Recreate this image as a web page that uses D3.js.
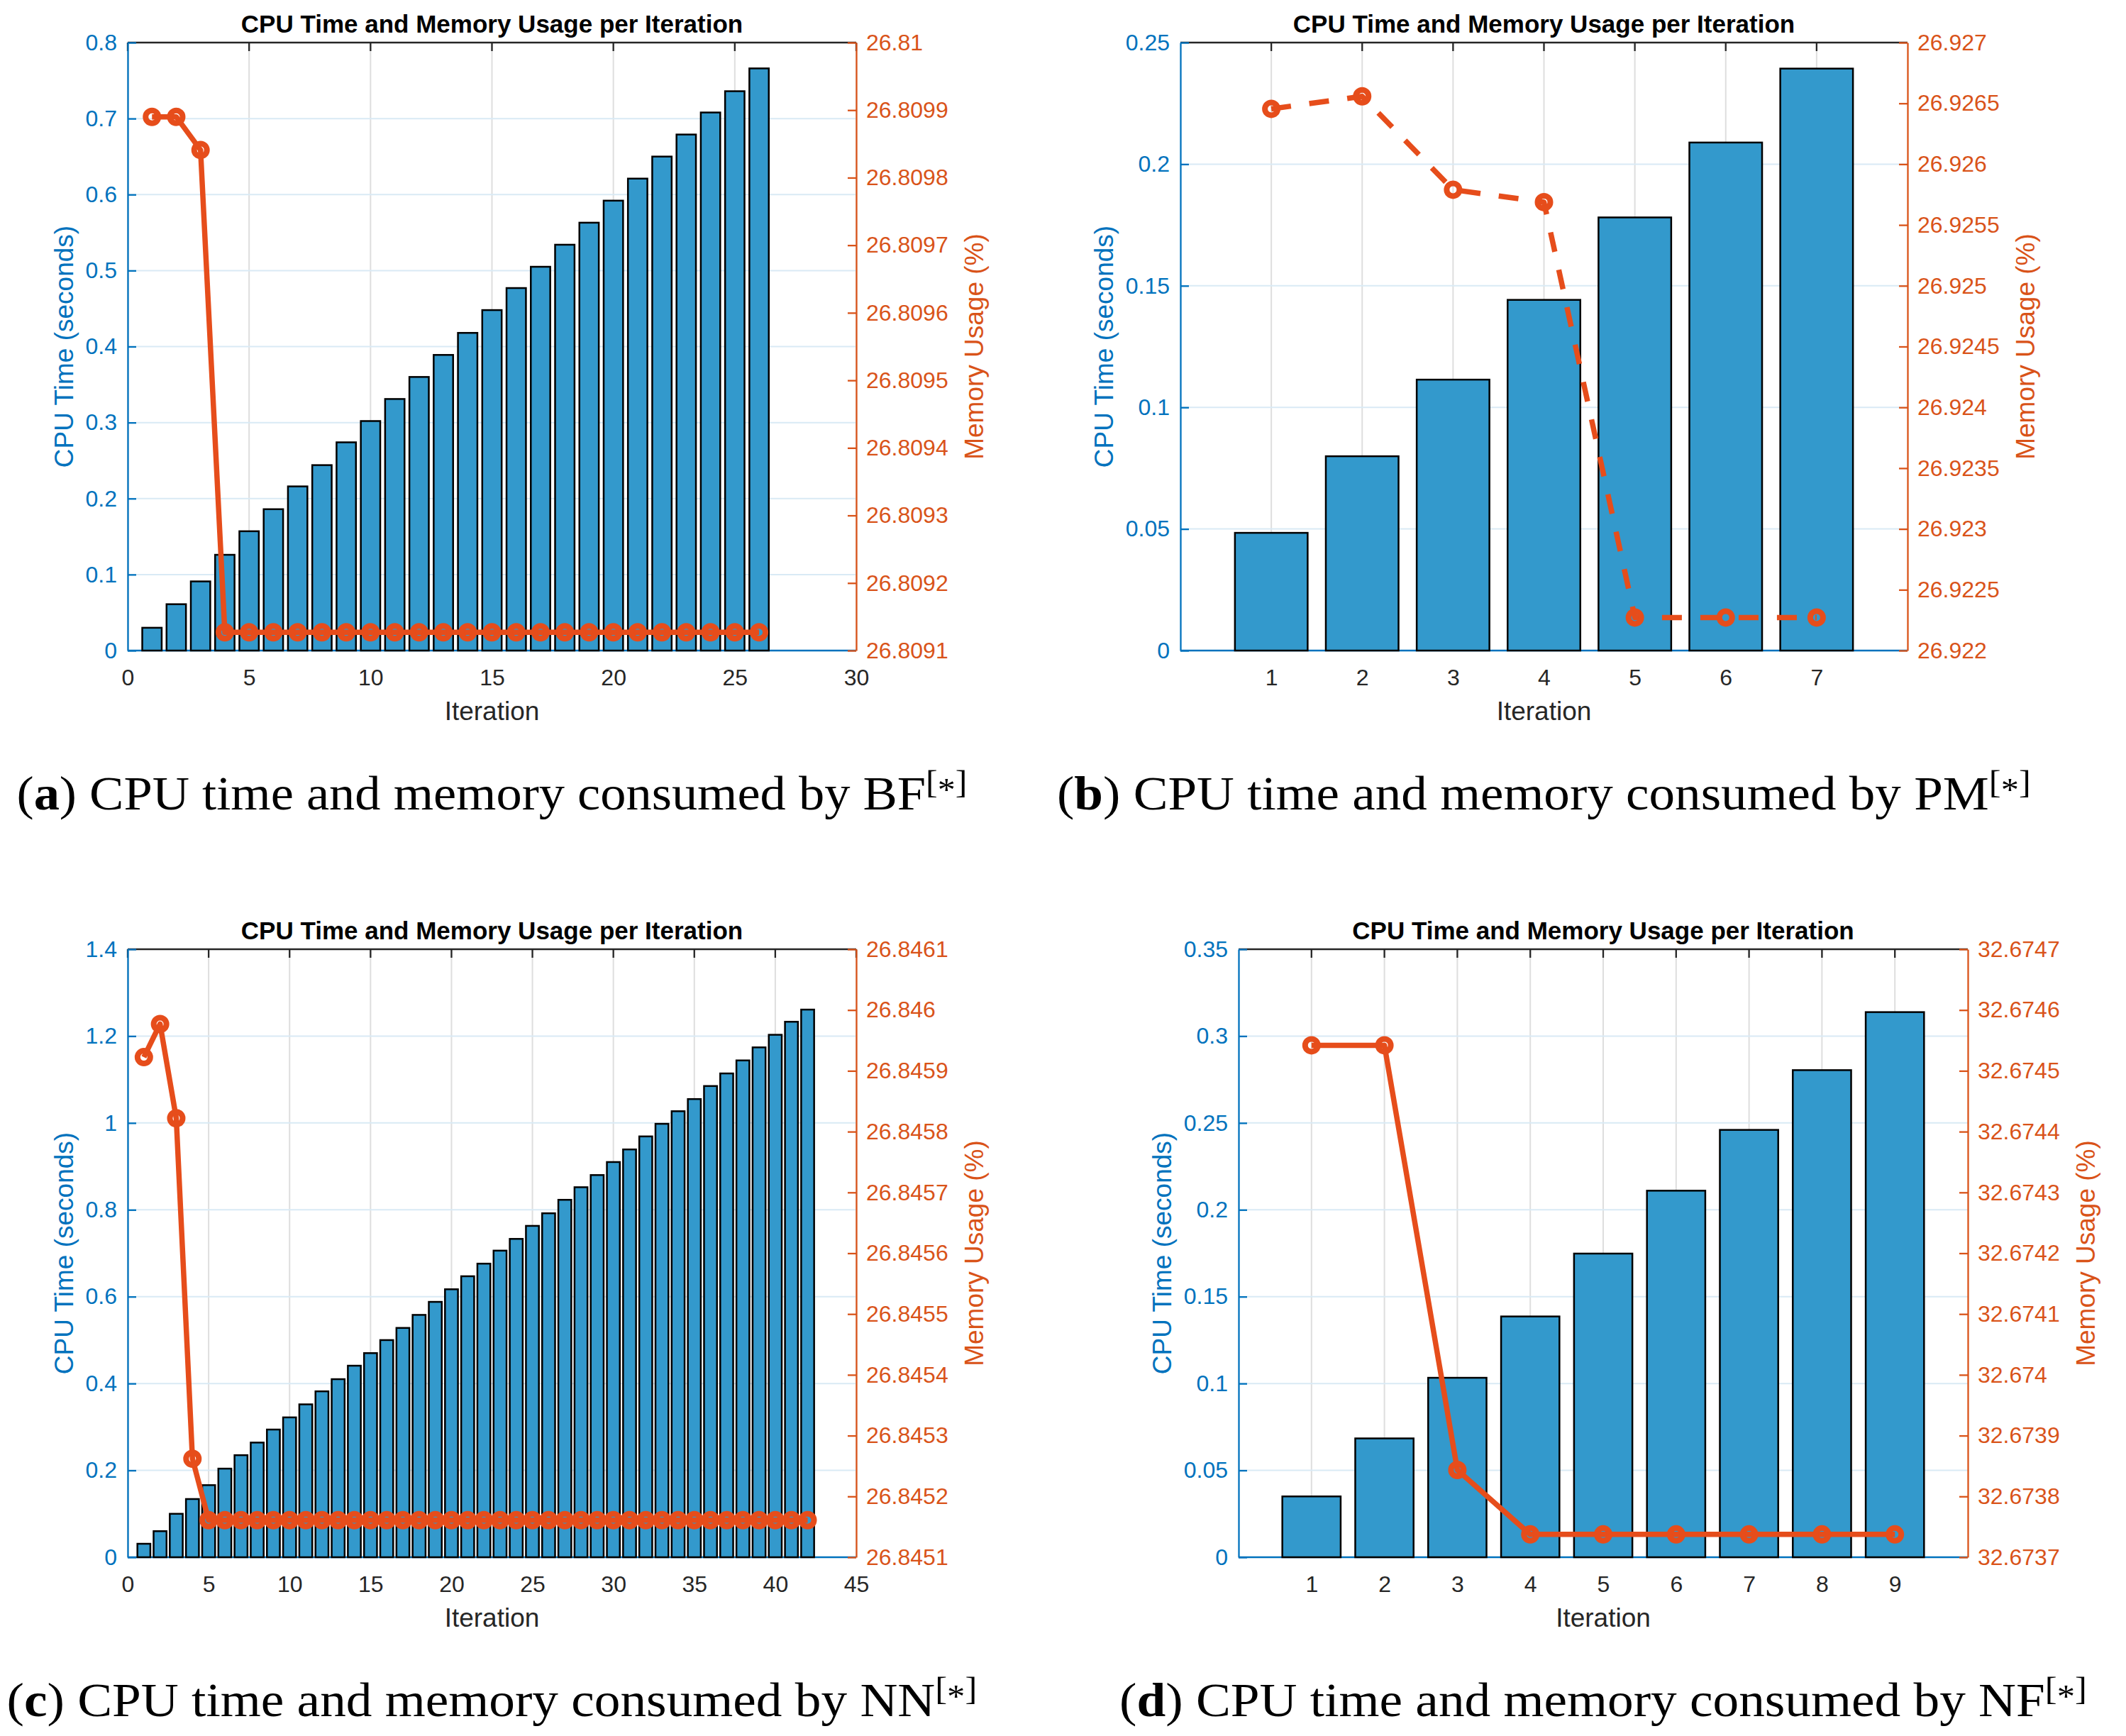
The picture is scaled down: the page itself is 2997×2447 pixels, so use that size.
<!DOCTYPE html>
<html>
<head>
<meta charset="utf-8">
<script src="https://cdn.jsdelivr.net/npm/d3@7"></script>
<style>
  body { margin: 0; background: #fff; }
</style>
</head>
<body>
<svg id="figure" width="2997" height="2447"></svg>
<script>
// ---- data ----
const BF_CPU = [0.030, 0.061, 0.091, 0.126, 0.157, 0.186, 0.216, 0.244, 0.274, 0.302, 0.331, 0.360, 0.389,
  0.418, 0.448, 0.477, 0.505, 0.534, 0.563, 0.592, 0.621, 0.650, 0.679, 0.708, 0.736, 0.766];
const BF_MEM = [26.80989, 26.80989, 26.809841, 26.809127, 26.809127, 26.809127, 26.809127, 26.809127,
  26.809127, 26.809127, 26.809127, 26.809127, 26.809127, 26.809127, 26.809127, 26.809127, 26.809127,
  26.809127, 26.809127, 26.809127, 26.809127, 26.809127, 26.809127, 26.809127, 26.809127, 26.809127];

const PM_CPU = [0.0484, 0.0799, 0.1114, 0.1442, 0.1781, 0.2089, 0.2393];
const PM_MEM = [26.926455, 26.926558, 26.92579, 26.925688, 26.922272, 26.922272, 26.922272];

const NN_CPU = [0.031, 0.060, 0.100, 0.134, 0.166, 0.204, 0.235, 0.264, 0.294, 0.322, 0.352, 0.382, 0.410,
  0.441, 0.470, 0.500, 0.528, 0.558, 0.588, 0.617, 0.647, 0.676, 0.706, 0.733, 0.763, 0.792, 0.823, 0.852,
  0.880, 0.910, 0.939, 0.969, 0.998, 1.027, 1.055, 1.085, 1.114, 1.144, 1.174, 1.203, 1.233, 1.261];
const NN_MEM = [26.8459225, 26.845977, 26.845822, 26.845262, 26.845161, 26.845161, 26.845161, 26.845161,
  26.845161, 26.845161, 26.845161, 26.845161, 26.845161, 26.845161, 26.845161, 26.845161, 26.845161,
  26.845161, 26.845161, 26.845161, 26.845161, 26.845161, 26.845161, 26.845161, 26.845161, 26.845161,
  26.845161, 26.845161, 26.845161, 26.845161, 26.845161, 26.845161, 26.845161, 26.845161, 26.845161,
  26.845161, 26.845161, 26.845161, 26.845161, 26.845161, 26.845161, 26.845161];

const NF_CPU = [0.035, 0.0684, 0.1033, 0.1386, 0.1748, 0.211, 0.246, 0.2804, 0.3138];
const NF_MEM = [32.674542, 32.674542, 32.6738436, 32.6737375, 32.6737375, 32.6737375, 32.6737375,
  32.6737375, 32.6737375];

// ---- ticks ----
const BF_X_TICKS = [0, 5, 10, 15, 20, 25, 30];
const BF_CPU_TICKS = [0, 0.1, 0.2, 0.3, 0.4, 0.5, 0.6, 0.7, 0.8];
const BF_MEM_TICKS = [26.8091, 26.8092, 26.8093, 26.8094, 26.8095, 26.8096, 26.8097, 26.8098, 26.8099, 26.81];

const PM_X_TICKS = [1, 2, 3, 4, 5, 6, 7];
const PM_CPU_TICKS = [0, 0.05, 0.1, 0.15, 0.2, 0.25];
const PM_MEM_TICKS = [26.922, 26.9225, 26.923, 26.9235, 26.924, 26.9245, 26.925, 26.9255, 26.926, 26.9265, 26.927];

const NN_X_TICKS = [0, 5, 10, 15, 20, 25, 30, 35, 40, 45];
const NN_CPU_TICKS = [0, 0.2, 0.4, 0.6, 0.8, 1, 1.2, 1.4];
const NN_MEM_TICKS = [26.8451, 26.8452, 26.8453, 26.8454, 26.8455, 26.8456, 26.8457, 26.8458, 26.8459, 26.846, 26.8461];

const NF_X_TICKS = [1, 2, 3, 4, 5, 6, 7, 8, 9];
const NF_CPU_TICKS = [0, 0.05, 0.1, 0.15, 0.2, 0.25, 0.3, 0.35];
const NF_MEM_TICKS = [32.6737, 32.6738, 32.6739, 32.674, 32.6741, 32.6742, 32.6743, 32.6744, 32.6745, 32.6746, 32.6747];

const TITLE = 'CPU Time and Memory Usage per Iteration';
const X_LABEL = 'Iteration';
const Y_LABEL = 'CPU Time (seconds)';
const Y2_LABEL = 'Memory Usage (%)';

// ---- style ----
const BLUE = '#0072BD';
const ORANGE = '#D95319';
const LINE_COLOR = '#E64D1B';
const BAR_COLOR = '#3399CC';
const DARK = '#262626';
const SANS = '"Liberation Sans", Arial, Helvetica, sans-serif';
const SERIF = '"Liberation Serif", "Times New Roman", serif';
const fmt = d3.format('.6~g');

const svg = d3.select('#figure');

function drawPanel(p) {
  const g = svg.append('g');
  const x = d3.scaleLinear().domain(p.xDomain).range([p.left, p.right]);
  const y = d3.scaleLinear().domain([p.cpuTicks[0], p.cpuTicks[p.cpuTicks.length - 1]]).range([p.bottom, p.top]);
  const y2 = d3.scaleLinear().domain([p.memTicks[0], p.memTicks[p.memTicks.length - 1]]).range([p.bottom, p.top]);

  // grid
  g.append('g').selectAll('line')
    .data(p.xTicks)
    .enter().append('line')
    .attr('x1', d => x(d)).attr('x2', d => x(d))
    .attr('y1', p.top).attr('y2', p.bottom)
    .attr('stroke', '#DEDEDE').attr('stroke-width', 2);
  g.append('g').selectAll('line')
    .data(p.cpuTicks)
    .enter().append('line')
    .attr('x1', p.left).attr('x2', p.right)
    .attr('y1', d => y(d)).attr('y2', d => y(d))
    .attr('stroke', '#D9EAF5').attr('stroke-width', 2);

  // baseline
  g.append('line')
    .attr('x1', p.left).attr('x2', p.right)
    .attr('y1', y(0)).attr('y2', y(0))
    .attr('stroke', BLUE).attr('stroke-width', 2.5);

  // bars
  g.append('g').selectAll('rect')
    .data(p.cpu)
    .enter().append('rect')
    .attr('x', (d, i) => x(i + 1 - 0.4))
    .attr('width', x(0.8) - x(0))
    .attr('y', d => y(d))
    .attr('height', d => y(0) - y(d))
    .attr('fill', BAR_COLOR)
    .attr('stroke', '#000')
    .attr('stroke-width', 2.5);

  // memory line
  const line = d3.line().x((d, i) => x(i + 1)).y(d => y2(d));
  g.append('path')
    .datum(p.mem)
    .attr('d', line)
    .attr('fill', 'none')
    .attr('stroke', LINE_COLOR)
    .attr('stroke-width', 7.5)
    .attr('stroke-linejoin', 'round')
    .attr('stroke-dasharray', p.dashed ? '28,26' : null);
  g.append('g').selectAll('circle')
    .data(p.mem)
    .enter().append('circle')
    .attr('cx', (d, i) => x(i + 1))
    .attr('cy', d => y2(d))
    .attr('r', 9)
    .attr('fill', 'none')
    .attr('stroke', LINE_COLOR)
    .attr('stroke-width', 8);

  // top frame with ticks
  g.append('line')
    .attr('x1', p.left).attr('x2', p.right)
    .attr('y1', p.top).attr('y2', p.top)
    .attr('stroke', DARK).attr('stroke-width', 2.3);
  g.append('g').selectAll('line')
    .data(p.xTicks)
    .enter().append('line')
    .attr('x1', d => x(d)).attr('x2', d => x(d))
    .attr('y1', p.top).attr('y2', p.top + 12)
    .attr('stroke', DARK).attr('stroke-width', 2.3);

  // x axis labels
  const xAxis = g.append('g')
    .attr('transform', `translate(0,${p.bottom})`)
    .call(d3.axisBottom(x).tickValues(p.xTicks).tickSize(0).tickPadding(26).tickFormat(fmt));
  xAxis.select('.domain').remove();
  xAxis.selectAll('text').attr('fill', DARK).style('font-size', '32px').style('font-family', SANS);

  // left axis
  const yAxis = g.append('g')
    .attr('transform', `translate(${p.left},0)`)
    .call(d3.axisLeft(y).tickValues(p.cpuTicks).tickSize(-12).tickSizeOuter(0).tickPadding(15).tickFormat(fmt));
  yAxis.select('.domain').attr('stroke', BLUE).attr('stroke-width', 2.3);
  yAxis.selectAll('.tick line').attr('stroke', BLUE).attr('stroke-width', 2.3);
  yAxis.selectAll('text').attr('fill', BLUE).style('font-size', '32px').style('font-family', SANS);

  // right axis
  const y2Axis = g.append('g')
    .attr('transform', `translate(${p.right},0)`)
    .call(d3.axisRight(y2).tickValues(p.memTicks).tickSize(-12).tickSizeOuter(0).tickPadding(14).tickFormat(fmt));
  y2Axis.select('.domain').attr('stroke', ORANGE).attr('stroke-width', 2.3);
  y2Axis.selectAll('.tick line').attr('stroke', ORANGE).attr('stroke-width', 2.3);
  y2Axis.selectAll('text').attr('fill', ORANGE).style('font-size', '32px').style('font-family', SANS);

  const cx = (p.left + p.right) / 2;
  const cy = (p.top + p.bottom) / 2;

  g.append('text')
    .attr('x', cx).attr('y', p.top - 14)
    .attr('text-anchor', 'middle')
    .style('font-family', SANS).style('font-size', '35px').style('font-weight', 'bold')
    .attr('fill', '#000')
    .text(TITLE);

  g.append('text')
    .attr('x', cx).attr('y', p.bottom + 98)
    .attr('text-anchor', 'middle')
    .style('font-family', SANS).style('font-size', '37px')
    .attr('fill', DARK)
    .text(X_LABEL);

  // y labels placed from the tick label extents
  let minX = Infinity;
  yAxis.selectAll('text').each(function () {
    const b = this.getBBox();
    minX = Math.min(minX, p.left + b.x);
  });
  let maxX = -Infinity;
  y2Axis.selectAll('text').each(function () {
    const b = this.getBBox();
    maxX = Math.max(maxX, p.right + b.x + b.width);
  });

  g.append('text')
    .attr('transform', `translate(${minX - 18},${cy}) rotate(-90)`)
    .attr('text-anchor', 'middle')
    .style('font-family', SANS).style('font-size', '37px')
    .attr('fill', BLUE)
    .text(Y_LABEL);
  g.append('text')
    .attr('transform', `translate(${maxX + 49},${cy}) rotate(-90)`)
    .attr('text-anchor', 'middle')
    .style('font-family', SANS).style('font-size', '37px')
    .attr('fill', ORANGE)
    .text(Y2_LABEL);

  // caption
  const cap = g.append('text')
    .style('font-family', SERIF).style('font-size', '68px')
    .attr('fill', '#000');
  cap.append('tspan').text('(');
  cap.append('tspan').style('font-weight', 'bold').text(p.letter);
  cap.append('tspan').text(') CPU time and memory consumed by ' + p.name);
  cap.append('tspan').attr('dy', -23).style('font-size', '47px').text('[');
  cap.append('tspan').attr('dy', 11).style('font-size', '47px').text('*');
  cap.append('tspan').attr('dy', -11).style('font-size', '47px').text(']');
  const w = cap.node().getBBox().width;
  const s = p.captionWidth / w;
  cap.attr('transform', `translate(${cx - p.captionWidth / 2},${p.top + 1081}) scale(${s},1)`);
}

drawPanel({
  left: 180, right: 1207, top: 60, bottom: 917,
  xDomain: [0, 30], xTicks: BF_X_TICKS, cpuTicks: BF_CPU_TICKS, memTicks: BF_MEM_TICKS,
  cpu: BF_CPU, mem: BF_MEM, dashed: false, letter: 'a', name: 'BF', captionWidth: 1340
});
drawPanel({
  left: 1664, right: 2689, top: 60, bottom: 917,
  xDomain: [0, 8], xTicks: PM_X_TICKS, cpuTicks: PM_CPU_TICKS, memTicks: PM_MEM_TICKS,
  cpu: PM_CPU, mem: PM_MEM, dashed: true, letter: 'b', name: 'PM', captionWidth: 1373
});
drawPanel({
  left: 180, right: 1207, top: 1338, bottom: 2195,
  xDomain: [0, 45], xTicks: NN_X_TICKS, cpuTicks: NN_CPU_TICKS, memTicks: NN_MEM_TICKS,
  cpu: NN_CPU, mem: NN_MEM, dashed: false, letter: 'c', name: 'NN', captionWidth: 1368
});
drawPanel({
  left: 1746, right: 2774, top: 1338, bottom: 2195,
  xDomain: [0, 10], xTicks: NF_X_TICKS, cpuTicks: NF_CPU_TICKS, memTicks: NF_MEM_TICKS,
  cpu: NF_CPU, mem: NF_MEM, dashed: false, letter: 'd', name: 'NF', captionWidth: 1364
});
</script>
</body>
</html>
